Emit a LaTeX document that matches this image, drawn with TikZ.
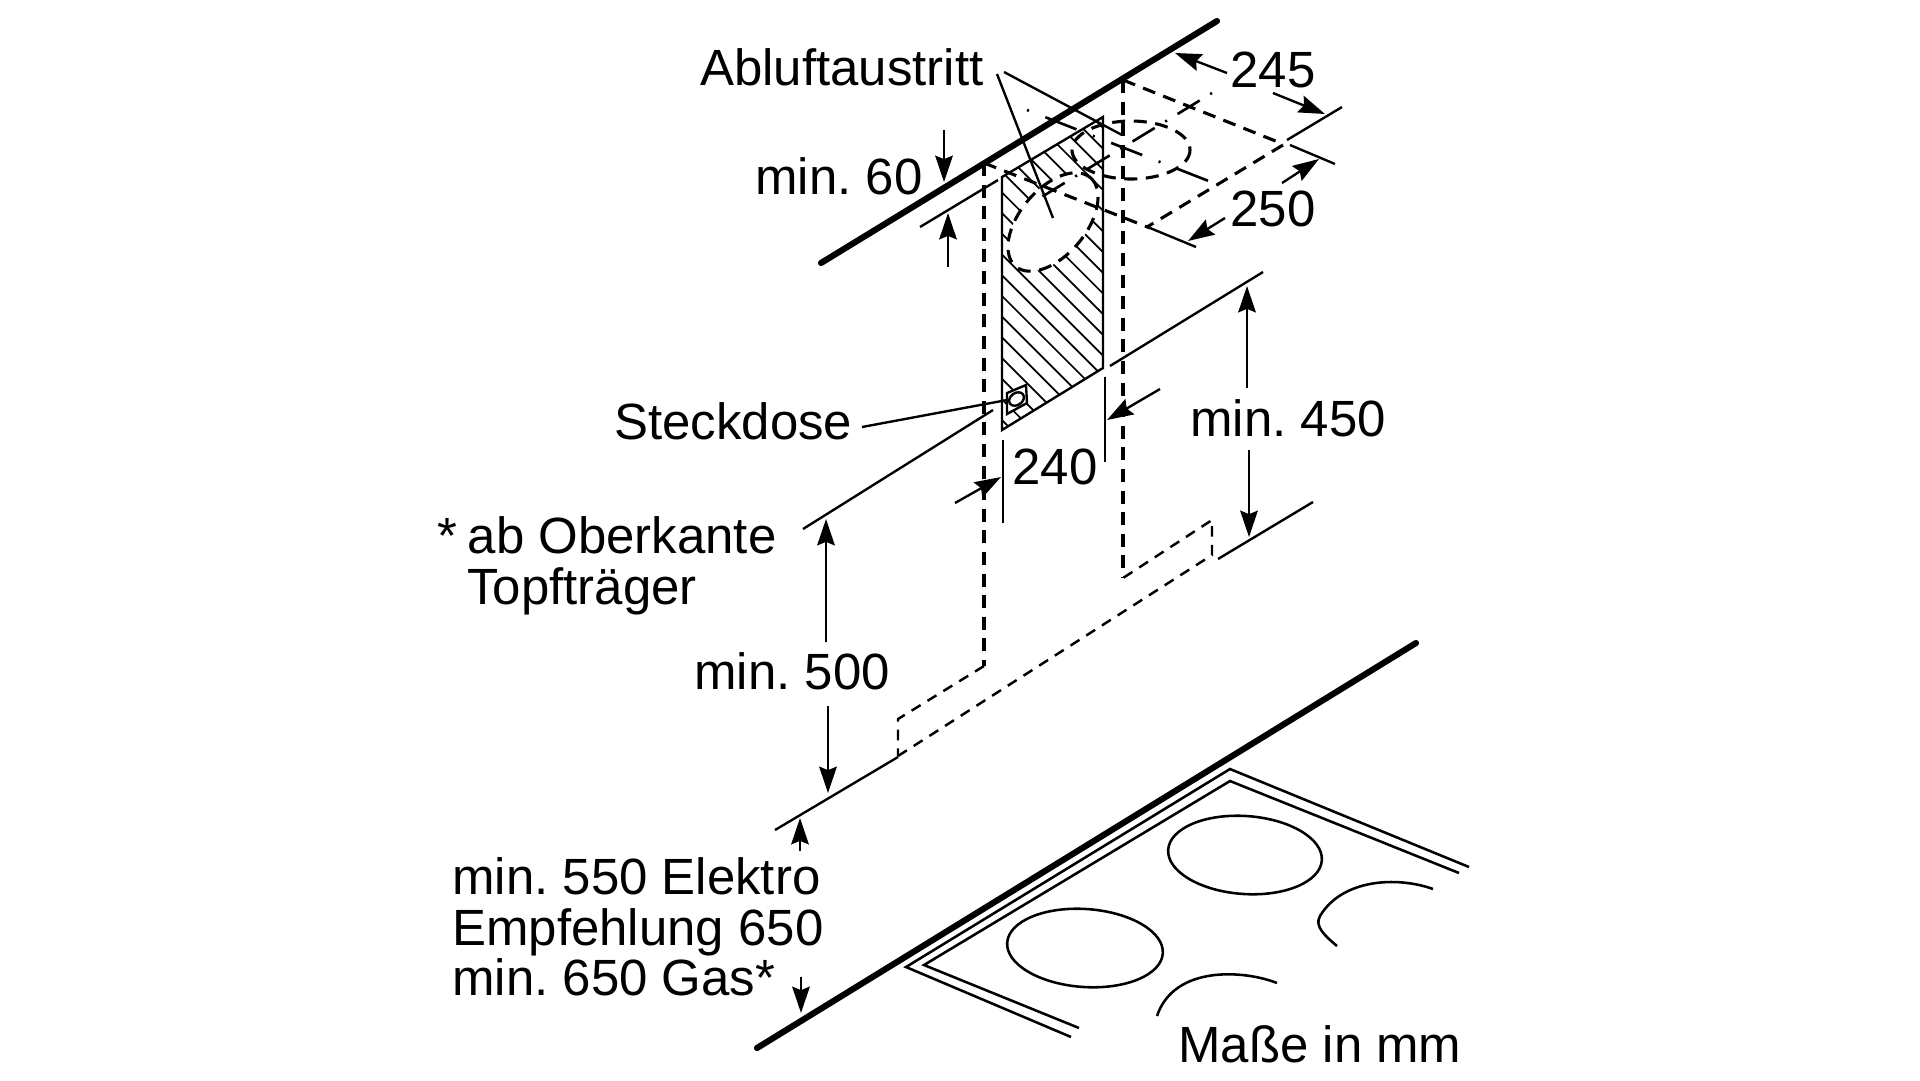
\documentclass[tikz,border=0pt]{standalone}
\usepackage{fontspec}
\setmainfont{Liberation Sans}
\usetikzlibrary{arrows.meta}
\tikzset{
  thin line/.style={line width=1.35pt},
  thick wall/.style={line width=3.5pt,line cap=round},
  hatch/.style={line width=1pt},
  dashbox/.style={line width=1.75pt,dash pattern=on 7.4pt off 4.9pt},
  dashfine/.style={line width=1.4pt,dash pattern=on 6pt off 4.6pt},
  axisa/.style={line width=1.5pt,dash pattern=on 1.2pt off 7pt on 14.8pt off 7pt},
  axisb/.style={line width=1.5pt,dash pattern=on 1.2pt off 10pt on 19pt off 10pt},
  dimarrow/.style={line width=1.35pt,-{Stealth[length=15pt,width=10pt,inset=2pt]}},
  label/.style={anchor=base west,inner sep=0pt,font=\fontsize{29}{34}\selectfont},
  hobline/.style={line width=1.45pt},
}
\begin{document}
\frenchspacing
\begin{tikzpicture}[x=0.02cm,y=-0.02cm]
\useasboundingbox (0,0) rectangle (1920,1080);
\fill[white] (0,0) rectangle (1920,1080);
% hatching of the hood opening
\begin{scope}
\clip (1002,177) -- (1103,117) -- (1103,368) -- (1002,430) -- cycle;
\foreach \k in {-13,...,8}{
  \pgfmathsetmacro{\c}{-726.7+\k*20.7}
  \pgfmathsetmacro{\ya}{950+\c}
  \pgfmathsetmacro{\yb}{1150+\c}
  \draw[hatch] (950,\ya) -- (1150,\yb);
}
\end{scope}
\fill[white] (1053,222) ellipse [x radius=58,y radius=33,rotate=50];
\draw[thin line] (1002,177) -- (1103,117) -- (1103,368) -- (1002,430) -- cycle;
% socket
\fill[white] (1007,393) -- (1026,385) -- (1027,403) -- (1007,414) -- cycle;
\draw[thin line] (1007,393) -- (1026,385) -- (1027,403) -- (1007,414) -- cycle;
\draw[thin line] (1016.5,399) ellipse [x radius=8,y radius=6,rotate=35];
% walls
\draw[thick wall] (821,263) -- (1217,21);
\draw[thick wall] (757,1048) -- (1416,643);
% dashed duct
\draw[dashbox] (984,163) -- (984,666);
\draw[dashbox] (1123,80) -- (1123,578);
\draw[dashfine] (984,666) -- (898,719) -- (898,756);
\draw[dashfine] (898,756) -- (1212,555) -- (1212,520) -- (1123,578);
% dashed box over the hood
\draw[dashbox] (1123,80) -- (1283,144);
\draw[dashbox] (1283,145) -- (1147,227);
\draw[dashbox] (984,163) -- (1150,228);
% ellipses
\draw[dashbox] (1053,222) ellipse [x radius=58,y radius=33,rotate=50];
\draw[dashbox] (1131,150) ellipse [x radius=59,y radius=29];
% axes
\draw[axisa] (1212,93) -- (1035,201);
\draw[axisb] (1027,110) -- (1224,187);
% extension lines
\draw[thin line] (1290,145) -- (1335,164);
\draw[thin line] (1287,140) -- (1342,107);
\draw[thin line] (1150,228) -- (1196,247);
\draw[thin line] (920,227) -- (998,180);
\draw[thin line] (1110,366) -- (1263,272);
\draw[thin line] (1218,559) -- (1313,502);
\draw[thin line] (803,529) -- (993,410);
\draw[thin line] (775,830) -- (898,757);
\draw[thin line] (1003,440) -- (1003,523);
\draw[thin line] (1105,377) -- (1105,462);
% labels
\node[label] (abluft) at (700,85) {Abluftaustritt};
\node[label] (m60) at (755,194) {min. 60};
\node[label] (d245) at (1230,87) {245};
\node[label] (d250) at (1230,226) {250};
\node[label] (m450) at (1190,436) {min. 450};
\node[label] (d240) at (1012,484) {240};
\node[label] (steck) at (614,439) {Steckdose};
\node[label] (ober) at (437,553) {*\hspace{-2pt} ab Oberkante};
\node[label] (topf) at (467,604) {Topfträger};
\node[label] (m500) at (694,689) {min. 500};
\node[label] (m550) at (452,894) {min. 550 Elektro};
\node[label] (emp) at (452,945) {Empfehlung 650};
\node[label] (m650) at (452,995) {min. 650 Gas*};
\node[label] (mass) at (1178,1062) {Maße in mm};
% leaders
\draw[thin line] (997,74) -- (1053,218);
\draw[thin line] (1004,72) -- (1122,135);
\draw[thin line] (862,427) -- (1007,400);
% dimension arrows
\draw[dimarrow] (1227,73) -- (1175,53);
\draw[dimarrow] (1273,93) -- (1325,114);
\draw[dimarrow] (1282,183) -- (1319,159);
\draw[dimarrow] (1225,218) -- (1188,241);
\draw[dimarrow] (944,130) -- (944,182);
\draw[dimarrow] (948,267) -- (948,213);
\draw[dimarrow] (1247,388) -- (1247,286);
\draw[dimarrow] (1249,450) -- (1249,537);
\draw[dimarrow] (955,503) -- (1001,477);
\draw[dimarrow] (1160,389) -- (1107,420);
\draw[dimarrow] (826,642) -- (826,519);
\draw[dimarrow] (828,706) -- (828,793);
\draw[dimarrow] (800,851) -- (800,818);
\draw[dimarrow] (801,977) -- (801,1013);
% hob
\draw[hobline] (1079,1028) -- (924,965) -- (1230,781) -- (1459,873);
\draw[hobline] (1071,1037) -- (906,967) -- (1230,769) -- (1469,867);
\draw[hobline] (1245,855) ellipse [x radius=77,y radius=39,rotate=-4];
\draw[hobline] (1085,948) ellipse [x radius=78,y radius=39,rotate=-4];
\draw[hobline] (1433,889) .. controls (1397,876) and (1342,879) .. (1320,916) .. controls (1314,926) and (1325,936) .. (1337,946);
\draw[hobline] (1277,983) .. controls (1244,970) and (1174,965) .. (1157,1016);
\end{tikzpicture}
\end{document}
